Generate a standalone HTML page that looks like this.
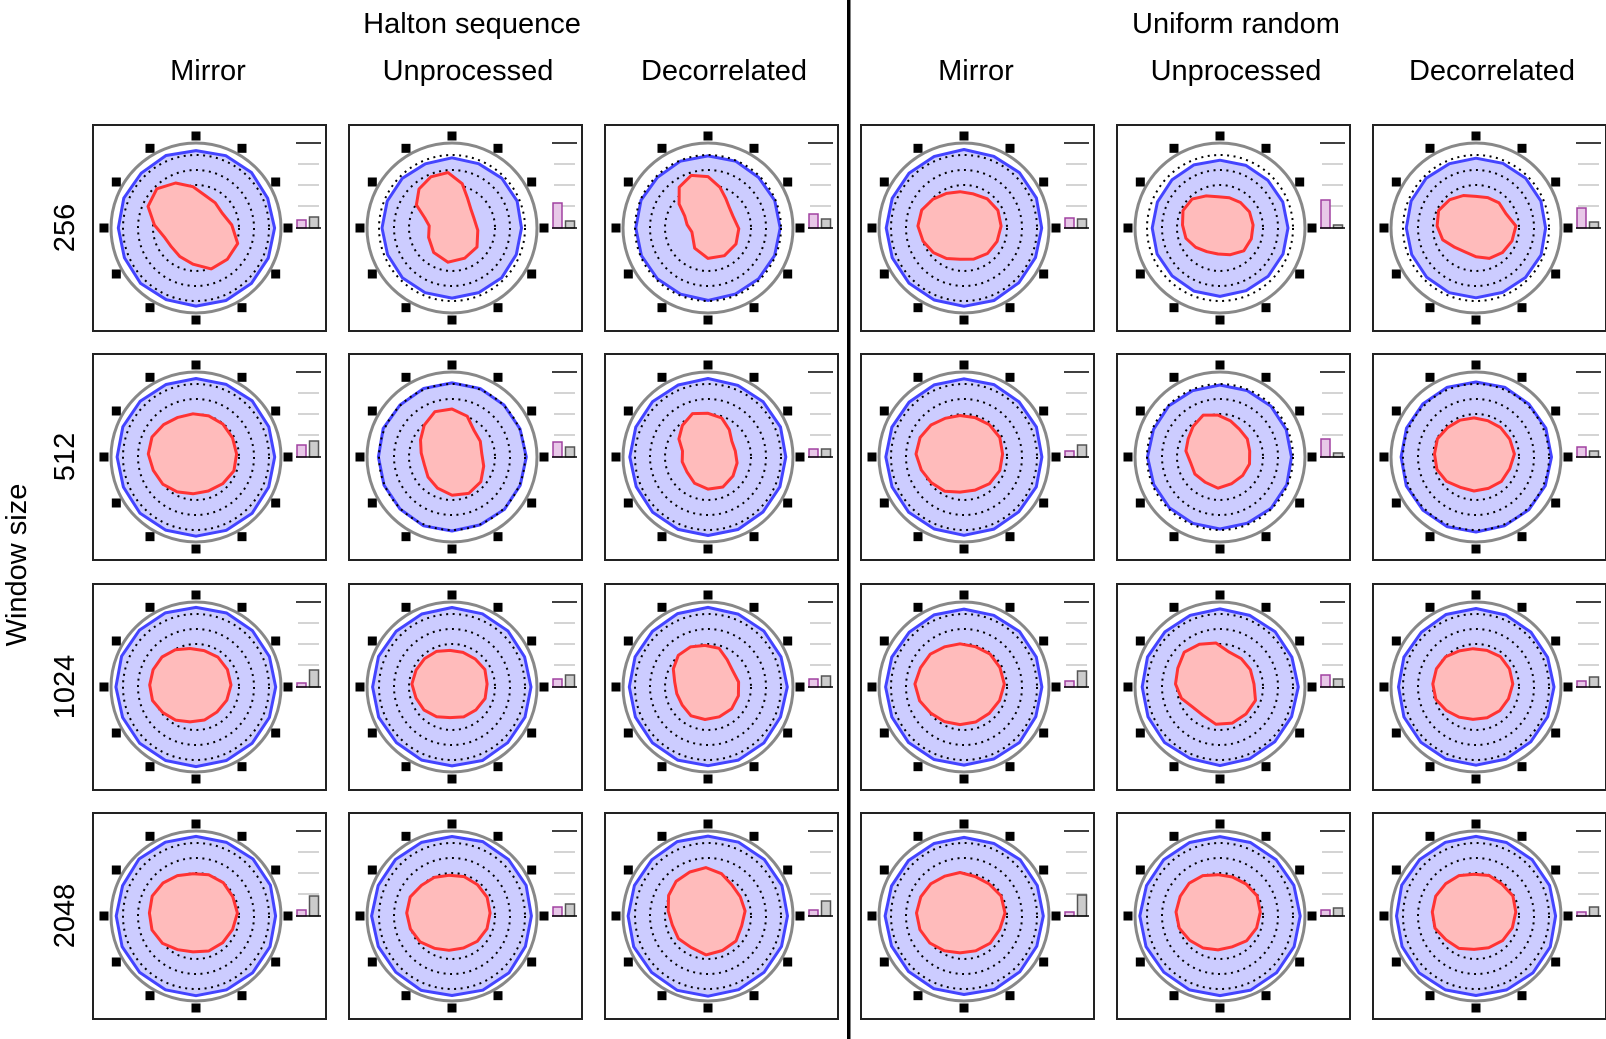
<!DOCTYPE html>
<html><head><meta charset="utf-8"><style>
html,body{margin:0;padding:0;background:#fff;}
body{width:1606px;height:1039px;overflow:hidden;position:relative;font-family:"Liberation Sans",sans-serif;}
</style></head><body>
<svg id="s" width="1606" height="1039" xmlns="http://www.w3.org/2000/svg" style="position:absolute;left:0;top:0">
<g font-family="Liberation Sans, sans-serif" font-size="29" fill="#000" text-anchor="middle">
<text x="472" y="33">Halton sequence</text>
<text x="1236" y="33">Uniform random</text>
<text x="208" y="80">Mirror</text>
<text x="468" y="80">Unprocessed</text>
<text x="724" y="80">Decorrelated</text>
<text x="976" y="80">Mirror</text>
<text x="1236" y="80">Unprocessed</text>
<text x="1492" y="80">Decorrelated</text>
<text transform="translate(74,228) rotate(-90)">256</text>
<text transform="translate(74,457) rotate(-90)">512</text>
<text transform="translate(74,687) rotate(-90)">1024</text>
<text transform="translate(74,916) rotate(-90)">2048</text>
<text transform="translate(26,565) rotate(-90)">Window size</text>
</g>
<rect x="847" y="0" width="3.5" height="1039" fill="#000"/>
</svg>
<script>
var s=document.getElementById('s');
var cols=[93,349,605,861,1117,1373], rows=[125,354,584,813];
var P=[
[[78,[-3,-3,40,0.25,0.8,0.1],[8,11]],[70,[-4,-10,34,0.35,1.25,0.15],[25,7]],[72,[0,-12,33,0.35,1.2,0.15],[14,9]],[78,[-4,-2,38,0.1,0,0.05],[10,9]],[68,[-2,-3,33,0.12,0.3,0.1],[28,3]],[70,[0,-2,35,0.15,0.4,0.15],[20,6]]],
[[79,[-3,-3,42,0.05,0,0.05],[12,16]],[74,[0,-4,37,0.2,1.3,0.1],[15,10]],[78,[0,-6,33,0.2,1.4,0.1],[8,8]],[78,[-4,-3,41,0.05,0,0.05],[6,12]],[72,[-2,-6,34,0.1,1.2,0.15],[18,4]],[75,[-2,-3,38,0.05,0,0.05],[10,6]]],
[[80,[-6,-2,39,0.05,0,0.05],[4,17]],[79,[-2,-3,36,0.05,0,0.05],[8,12]],[79,[-3,-5,35,0.12,1.2,0.1],[8,11]],[78,[-4,-3,42,0.05,0,0.05],[6,16]],[78,[-4,-3,39,0.12,0.8,0.1],[12,8]],[78,[-3,-3,38,0.05,0,0.05],[6,10]]],
[[80,[-3,-3,42,0.05,0,0.05],[6,20]],[80,[-3,-3,40,0.05,0,0.05],[9,12]],[80,[-2,-5,40,0.08,1.2,0.08],[6,15]],[79,[-4,-3,42,0.05,0,0.05],[4,21]],[80,[-2,-4,40,0.05,0,0.05],[6,8]],[80,[-2,-4,40,0.05,0,0.05],[4,9]]]
];
function rnd(seed){var x=Math.sin(seed)*10000;return x-Math.floor(x);}
var h='';
for(var r=0;r<4;r++)for(var c=0;c<6;c++){
 var X=cols[c],Y=rows[r],d=P[r][c],cx=X+103,cy=Y+103;
 h+='<rect x="'+X+'" y="'+Y+'" width="233" height="206" fill="#fff" stroke="#222" stroke-width="2"/>';
 for(var k=0;k<12;k++){var a=k*Math.PI/6;h+='<rect x="'+(cx+92*Math.cos(a)-4.5)+'" y="'+(cy+92*Math.sin(a)-4.5)+'" width="9" height="9" fill="#000"/>';}
 h+='<circle cx="'+cx+'" cy="'+cy+'" r="85" fill="none" stroke="#888" stroke-width="3"/>';
 var pts=[];for(var k=0;k<16;k++){var a=-Math.PI/2+k*Math.PI/8;var rr=d[0]*(1+0.015*(rnd(r*97+c*13+k)-0.5));pts.push((cx+rr*Math.cos(a)).toFixed(1)+','+(cy+rr*Math.sin(a)).toFixed(1));}
 h+='<polygon points="'+pts.join(' ')+'" fill="#ccccff" stroke="#4444ff" stroke-width="3" stroke-linejoin="round"/>';
 [73,58,43].forEach(function(R){h+='<circle cx="'+cx+'" cy="'+cy+'" r="'+R+'" fill="none" stroke="#000" stroke-width="2" stroke-dasharray="2 4.5"/>';});
 var q=d[1],rp=[];for(var k=0;k<16;k++){var a=-Math.PI/2+k*Math.PI/8;var rr=q[2]*(1+q[3]*Math.cos(2*(a-q[4]))+q[5]*(rnd(r*31+c*7+k*3)-0.5));rp.push((cx+q[0]+rr*Math.cos(a)).toFixed(1)+','+(cy+q[1]+rr*Math.sin(a)).toFixed(1));}
 h+='<polygon points="'+rp.join(' ')+'" fill="#ffbbbb" stroke="#ff3333" stroke-width="3" stroke-linejoin="round"/>';
 h+='<line x1="'+(X+203)+'" y1="'+(Y+18)+'" x2="'+(X+228)+'" y2="'+(Y+18)+'" stroke="#000" stroke-width="1.5"/>';
 [39,60,81].forEach(function(yy){h+='<line x1="'+(X+205)+'" y1="'+(Y+yy)+'" x2="'+(X+226)+'" y2="'+(Y+yy)+'" stroke="#bbb" stroke-width="1.2"/>';});
 var b=d[2];
 h+='<rect x="'+(X+204)+'" y="'+(Y+103-b[0])+'" width="9" height="'+b[0]+'" fill="#e8c8e8" stroke="#a040a0" stroke-width="1.5"/>';
 h+='<rect x="'+(X+216.5)+'" y="'+(Y+103-b[1])+'" width="9" height="'+b[1]+'" fill="#ccc" stroke="#555" stroke-width="1.5"/>';
 h+='<line x1="'+(X+203)+'" y1="'+(Y+103)+'" x2="'+(X+228)+'" y2="'+(Y+103)+'" stroke="#000" stroke-width="1.5"/>';
}
s.insertAdjacentHTML('beforeend',h);
</script>
</body></html>
